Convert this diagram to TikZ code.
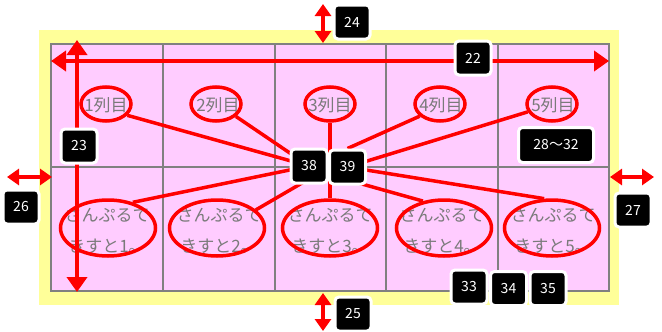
\documentclass[tikz,border=0pt]{standalone}
\usepackage{fontspec}
\newfontfamily\jp{Noto Sans CJK JP}
\usetikzlibrary{arrows.meta,shapes.geometric,calc}
\definecolor{pinkc}{HTML}{FFCCFF}
\definecolor{yellowc}{HTML}{FFFF99}
\definecolor{gridc}{HTML}{808080}
\definecolor{textc}{HTML}{7A7A7A}
\pgfdeclarelayer{bg}
\pgfdeclarelayer{mid}
\pgfsetlayers{bg,mid,main}
\begin{document}
\begin{tikzpicture}[x=1pt,y=-1pt,
 badge/.style={fill=black, draw=white, line width=3pt, rounded corners=4pt, text=white,
   font=\jp\fontsize{14}{14}\selectfont, minimum width=36pt, minimum height=34pt, inner sep=2pt},
 hl/.style={draw=red, line width=3.5pt, ellipse, inner sep=0pt},
 conn/.style={draw=red, line width=3.5pt},
 dimar/.style={draw=red, line width=4pt, {Triangle[length=15pt,width=20pt]}-{Triangle[length=15pt,width=20pt]}},
 sdimar/.style={draw=red, line width=4pt, {Triangle[length=12pt,width=16pt]}-{Triangle[length=12pt,width=16pt]}},
 celltext/.style={text=textc, font=\jp\fontsize{17}{31}\selectfont, align=center, inner sep=0pt}
]
\useasboundingbox (0,0) rectangle (662,332);
\begin{pgfonlayer}{bg}
\fill[white] (0,0) rectangle (662,332);
\fill[yellowc] (39,30) rectangle (619,305);
\fill[pinkc] (51,44) rectangle (609,291);
\draw[gridc, line width=1.5pt] (51,44) rectangle (609,291);
\foreach \x in {163,275,386,498} \draw[gridc, line width=1.5pt] (\x,44) -- (\x,291);
\draw[gridc, line width=1.5pt] (51,167) -- (609,167);
% texts
\node[celltext] (t1) at (106,105) {1列目};
\node[celltext] (t2) at (218,105) {2列目};
\node[celltext] (t3) at (330,105) {3列目};
\node[celltext] (t4) at (441,105) {4列目};
\node[celltext] (t5) at (553,105) {5列目};
\node[celltext] (u1) at (107,231) {さんぷるて\\きすと1。};
\node[celltext] (u2) at (219,231) {さんぷるて\\きすと2。};
\node[celltext] (u3) at (330,231) {さんぷるて\\きすと3。};
\node[celltext] (u4) at (442,231) {さんぷるて\\きすと4。};
\node[celltext] (u5) at (553,231) {さんぷるて\\きすと5。};
% ellipses
\node[hl, minimum width=50pt, minimum height=34pt] (e1) at (106,104) {};
\node[hl, minimum width=50pt, minimum height=34pt] (e2) at (216,104) {};
\node[hl, minimum width=50pt, minimum height=34pt] (e3) at (330,104) {};
\node[hl, minimum width=50pt, minimum height=34pt] (e4) at (440,104) {};
\node[hl, minimum width=50pt, minimum height=34pt] (e5) at (552,104) {};
\node[hl, minimum width=95pt, minimum height=56pt] (f1) at (108,228) {};
\node[hl, minimum width=95pt, minimum height=56pt] (f2) at (217,228) {};
\node[hl, minimum width=95pt, minimum height=56pt] (f3) at (330,228) {};
\node[hl, minimum width=95pt, minimum height=56pt] (f4) at (444,228) {};
\node[hl, minimum width=95pt, minimum height=56pt] (f5) at (552,228) {};
\end{pgfonlayer}
% badges
\node[badge] (b22) at (473,58) {22};
\node[badge] (b23) at (79,146) {23};
\node[badge] (b24) at (352,22) {24};
\node[badge] (b25) at (353,314) {25};
\node[badge] (b26) at (21,207) {26};
\node[badge] (b27) at (633,210) {27};
\node[badge, minimum width=75pt, minimum height=35pt] (b28) at (556,145) {28～32};
\node[badge] (b33) at (469,287) {33};
\node[badge] (b34) at (508.5,288.5) {34};
\node[badge] (b35) at (548,288.5) {35};
\node[badge] (b38) at (309,166) {38};
\node[badge] (b39) at (347.5,167) {39};
\coordinate (c3) at (330,168);
% dimension arrow ends
\coordinate (a22l) at (51,61);
\coordinate (a22r) at (609,61);
\coordinate (a23t) at (77,40);
\coordinate (a23b) at (77,292);
\coordinate (a24t) at (323,4);
\coordinate (a24b) at (323,43);
\coordinate (a25t) at (323,293);
\coordinate (a25b) at (323,331);
\coordinate (a26l) at (7,177);
\coordinate (a26r) at (52,177);
\coordinate (a27l) at (610,177);
\coordinate (a27r) at (654,177);
\begin{pgfonlayer}{mid}
\draw[dimar] (a22l) -- (a22r);
\draw[dimar] (a23t) -- (a23b);
\draw[sdimar] (a24t) -- (a24b);
\draw[sdimar] (a25t) -- (a25b);
\draw[sdimar] (a26l) -- (a26r);
\draw[sdimar] (a27l) -- (a27r);
% connectors
\draw[conn] (e1.-28) -- (b38.center);
\draw[conn] (e2.-32) -- (b38.center);
\draw[conn] (f1.46) -- (b38.center);
\draw[conn] (f2.25) -- ($(b38.center)!0.7!(b38.south)$);
\draw[conn] (e3) -- (c3);
\draw[conn] (f3) -- (c3);
\draw[conn] (e4.-149) -- (b39.north);
\draw[conn] (e5.198) -- (b39.center);
\draw[conn] (f4.128) -- ($(b39.center)!0.7!(b39.south)$);
\draw[conn] (f5.105) -- (b39.center);
\end{pgfonlayer}
\end{tikzpicture}
\end{document}
